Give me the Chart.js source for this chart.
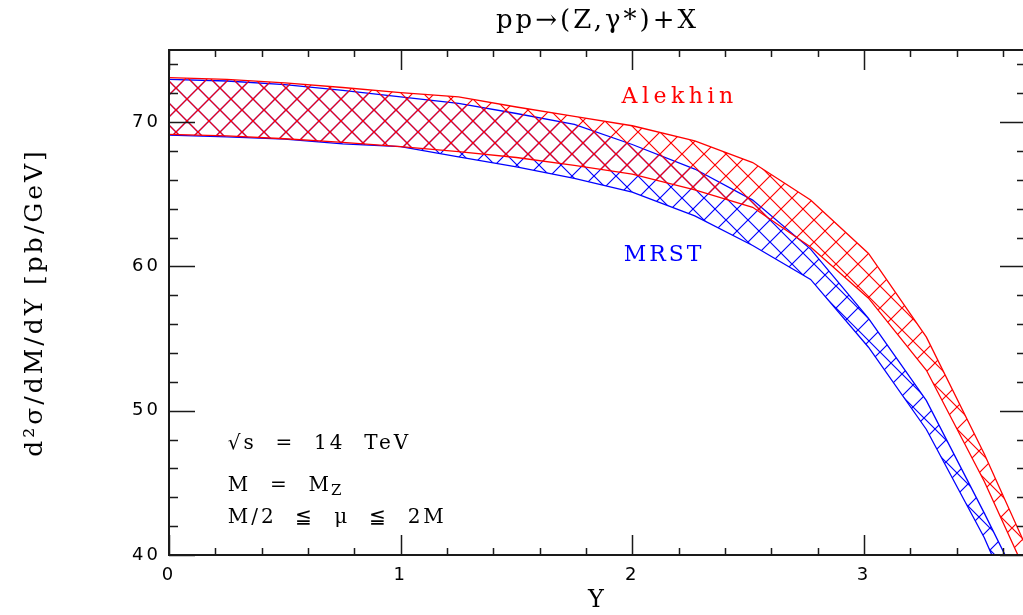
<!DOCTYPE html>
<html>
<head>
<meta charset="utf-8">
<script src="https://cdn.jsdelivr.net/npm/chart.js@4/dist/chart.umd.min.js"></script>
<style>
  html, body { margin: 0; padding: 0; background: #fff; overflow: hidden; }
</style>
</head>
<body>
<canvas id="myChart" width="1030" height="615"></canvas>
<script>
/* pp -> (Z,gamma*) + X, d2sigma/dM/dY vs Y, scale band M/2 .. 2M */

// rapidity nodes of the bands
const rapidity = [0, 0.25, 0.5, 0.75, 1.0, 1.25, 1.5, 1.75, 2.0, 2.27, 2.52, 2.77, 3.02, 3.27, 3.52, 3.77];

// Alekhin band (red)
const alekhinMax = [73.08, 72.96, 72.72, 72.40, 72.05, 71.75, 71.05, 70.40, 69.75, 68.70, 67.20, 64.60, 60.90, 55.10, 47.00, 38.10];
const alekhinMin = [69.15, 69.05, 68.85, 68.60, 68.30, 67.95, 67.55, 67.00, 66.40, 65.30, 64.10, 61.35, 57.80, 52.80, 45.10, 36.30];

// MRST band (blue)
const mrstMax = [72.96, 72.85, 72.60, 72.20, 71.75, 71.30, 70.60, 69.85, 68.45, 66.75, 64.60, 61.20, 56.40, 50.70, 42.90, 34.80];
const mrstMin = [69.10, 68.98, 68.82, 68.50, 68.30, 67.60, 66.90, 66.10, 65.15, 63.50, 61.45, 59.10, 54.40, 48.70, 41.20, 32.00];

// axes
const xTicks = [0, 1, 2, 3];
const yTicks = [40, 50, 60, 70];

const RED = "#ff0000";
const BLUE = "#0000ff";
const INK = "#1a1a1a";

function hatch(color) {
  const s = 22;
  const c = document.createElement("canvas");
  c.width = s; c.height = s;
  const g = c.getContext("2d");
  g.strokeStyle = color;
  g.lineWidth = 1.2;
  g.beginPath();
  for (let k = -1; k <= 1; k++) {
    g.moveTo(k * s - 2, -2); g.lineTo(k * s + s + 2, s + 2);
    g.moveTo(k * s - 2, s + 2); g.lineTo(k * s + s + 2, -2);
  }
  g.stroke();
  return g.createPattern(c, "repeat");
}

const pts = arr => rapidity.map((x, i) => ({ x: x, y: arr[i] }));

// frame + inward ticks on all four sides
const frameTicks = {
  id: "frameTicks",
  afterDatasetsDraw(chart) {
    const { ctx, chartArea: a, scales: { x, y } } = chart;
    ctx.save();
    ctx.strokeStyle = INK;
    ctx.lineWidth = 1.5;
    ctx.beginPath();
    for (let i = 0; i <= 18; i++) {
      const v = i * 0.2;
      const px = Math.round(x.getPixelForValue(v)) + 0.5;
      const len = (i % 5 === 0) ? 20 : 7;
      ctx.moveTo(px, a.bottom); ctx.lineTo(px, a.bottom - len);
      ctx.moveTo(px, a.top); ctx.lineTo(px, a.top + len);
    }
    for (let i = 0; i <= 17; i++) {
      const v = 40 + i * 2;
      const py = Math.round(y.getPixelForValue(v)) + 0.5;
      const len = (v % 10 === 0) ? 26 : 9;
      ctx.moveTo(a.left, py); ctx.lineTo(a.left + len, py);
      ctx.moveTo(a.right, py); ctx.lineTo(a.right - len, py);
    }
    ctx.stroke();
    ctx.lineWidth = 2;
    ctx.strokeRect(a.left, a.top, a.right - a.left, a.bottom - a.top);
    ctx.restore();
  }
};

// wider letter spacing for the axis/title text, like the original plot
const spacing = {
  id: "spacing",
  beforeDraw(chart) { chart.ctx.letterSpacing = "3px"; },
  beforeDatasetsDraw(chart) { chart.ctx.letterSpacing = "0px"; }
};

// text inside the frame
const notes = {
  id: "notes",
  afterDraw(chart) {
    const { ctx, scales: { x, y } } = chart;
    ctx.save();
    ctx.letterSpacing = "4.5px";
    ctx.textBaseline = "alphabetic";
    ctx.textAlign = "left";
    ctx.font = '22px "DejaVu Serif"';
    ctx.fillStyle = RED;
    ctx.fillText("Alekhin", x.getPixelForValue(1.954), y.getPixelForValue(71.3));
    ctx.letterSpacing = "3px";
    ctx.fillStyle = BLUE;
    ctx.fillText("MRST", x.getPixelForValue(1.963), y.getPixelForValue(60.4));

    ctx.fillStyle = "#000";
    ctx.font = '20px "DejaVu Serif"';
    const x0 = x.getPixelForValue(0.254);
    ctx.fillText("\u221As  =  14  TeV", x0, y.getPixelForValue(47.37));
    const yM = y.getPixelForValue(44.46);
    ctx.fillText("M  =  M", x0, yM);
    const w = ctx.measureText("M  =  M").width;
    ctx.font = '15px "DejaVu Serif"';
    ctx.fillText("Z", x0 + w - 1, yM + 4);
    ctx.font = '20px "DejaVu Serif"';
    ctx.fillText("M/2  \u2266  \u03BC  \u2266  2M", x0, y.getPixelForValue(42.24));
    ctx.restore();
  }
};

const config = {
  type: "line",
  data: {
    datasets: [
      {
        label: "Alekhin max",
        data: pts(alekhinMax),
        borderColor: RED,
        backgroundColor: hatch(RED),
        borderWidth: 1.3,
        fill: "+1"
      },
      {
        label: "Alekhin min",
        data: pts(alekhinMin),
        borderColor: RED,
        borderWidth: 1.3,
        fill: false
      },
      {
        label: "MRST max",
        data: pts(mrstMax),
        borderColor: BLUE,
        backgroundColor: hatch(BLUE),
        borderWidth: 1.3,
        fill: "+1"
      },
      {
        label: "MRST min",
        data: pts(mrstMin),
        borderColor: BLUE,
        borderWidth: 1.3,
        fill: false
      }
    ]
  },
  options: {
    responsive: false,
    animation: false,
    devicePixelRatio: 1,
    elements: { point: { radius: 0 }, line: { tension: 0 } },
    layout: { padding: { left: 0, right: 4, top: 0, bottom: 0 } },
    plugins: {
      legend: { display: false },
      tooltip: { enabled: false },
      title: {
        display: true,
        fullSize: false,
        text: "pp\u2192(Z,\u03B3*)+X",
        color: "#000",
        font: { family: "DejaVu Serif", size: 26, weight: "normal" },
        padding: { top: 6, bottom: 12.8 }
      }
    },
    scales: {
      x: {
        type: "linear",
        min: 0,
        max: 3.7,
        grid: { display: false, drawTicks: false },
        border: { display: false },
        afterBuildTicks: s => { s.ticks = xTicks.map(v => ({ value: v })); },
        afterFit: s => { s.height = 60; },
        ticks: {
          color: "#000",
          padding: 10,
          maxRotation: 0,
          font: { family: "DejaVu Sans", size: 18 }
        },
        title: {
          display: true,
          text: "Y",
          color: "#000",
          font: { family: "DejaVu Serif", size: 24 },
          padding: { top: 0, bottom: 0 }
        }
      },
      y: {
        type: "linear",
        min: 40,
        max: 75,
        grid: { display: false, drawTicks: false },
        border: { display: false },
        afterBuildTicks: s => { s.ticks = yTicks.map(v => ({ value: v })); },
        afterFit: s => { s.width = 169; },
        ticks: {
          color: "#000",
          padding: 8,
          font: { family: "DejaVu Sans", size: 18 }
        },
        title: {
          display: true,
          text: "d\u00B2\u03C3/dM/dY [pb/GeV]",
          color: "#000",
          font: { family: "DejaVu Serif", size: 25 },
          padding: { top: 20, bottom: 0 }
        }
      }
    }
  },
  plugins: [spacing, frameTicks, notes]
};

const myChart = new Chart(document.getElementById("myChart"), config);
</script>
</body>
</html>
